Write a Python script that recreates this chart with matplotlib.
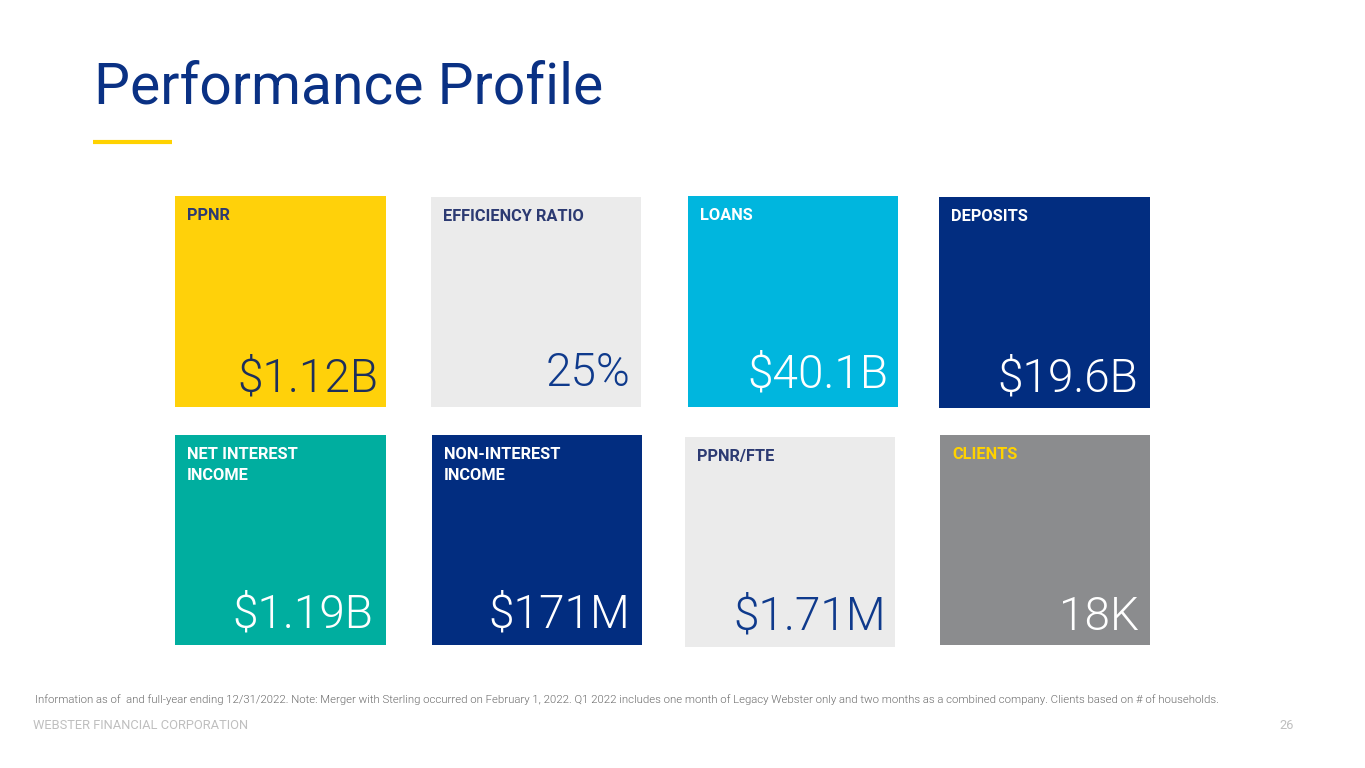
import matplotlib
matplotlib.use("Agg")
from matplotlib import pyplot as plt
from matplotlib.patches import Rectangle

plt.rcParams['font.family'] = ['Roboto', 'DejaVu Sans']

# tile data
labels = ["PPNR", "EFFICIENCY RATIO", "LOANS", "DEPOSITS",
          "NET INTEREST\nINCOME", "NON-INTEREST\nINCOME", "PPNR/FTE", "CLIENTS"]
values = ["$1.12B", "25%", "$40.1B", "$19.6B",
          "$1.19B", "$171M", "$1.71M", "18K"]

# layout: left, top, right, bottom in pixels
boxes = [(175, 196, 386, 407), (431, 197, 641, 407), (688, 196, 898, 407), (939, 197, 1150, 408),
         (175, 435, 386, 645), (432, 435, 642, 645), (685, 437, 895, 647), (940, 435, 1150, 645)]
# value text inset from right / bottom edge of each tile
pad_r = [8, 11, 10, 12, 13, 12, 9, 11]
pad_b = [15, 21, 19, 16, 18, 18, 17, 15]
fills = ["#FFD10A", "#EBEBEB", "#00B6DE", "#022D80",
         "#00AE9F", "#022D80", "#EBEBEB", "#8B8C8E"]
label_colors = ["#2C3A72", "#2C3A72", "white", "white",
                "white", "white", "#2C3A72", "#FFD200"]
value_colors = ["#1D2F5C", "#0F3A8C", "white", "white",
                "white", "white", "#0F3A8C", "white"]

footnote = ("Information as of  and full-year ending 12/31/2022. Note: Merger with Sterling occurred on "
            "February 1, 2022. Q1 2022 includes one month of Legacy Webster only and two months as a "
            "combined company. Clients based on # of households.")

W, H = 1365, 768
fig = plt.figure(figsize=(W / 100, H / 100), dpi=100)
ax = fig.add_axes([0, 0, 1, 1])
ax.set_xlim(0, W)
ax.set_ylim(H, 0)
ax.axis("off")

ax.text(94, 103, "Performance Profile", fontsize=41, color="#0A3184", va="baseline", ha="left")
ax.plot([93, 172], [142, 142], color="#FFD200", lw=3, solid_capstyle="butt")

for i in range(len(labels)):
    l, t, r, b = boxes[i]
    ax.add_patch(Rectangle((l, t), r - l, b - t, facecolor=fills[i], edgecolor="none"))
    for k, line in enumerate(labels[i].split("\n")):
        ax.text(l + 12, t + 24 + 21 * k, line, fontsize=11.8, fontweight="bold",
                color=label_colors[i], va="baseline", ha="left")
    ax.text(r - pad_r[i], b - pad_b[i], values[i], fontsize=33, fontweight=300,
            color=value_colors[i], va="baseline", ha="right")

ax.text(35, 703, footnote, fontsize=8.18, fontweight=300, color="#6A6A6A", va="baseline", ha="left")
ax.text(33, 729, "WEBSTER FINANCIAL CORPORATION", fontsize=9.3, color="#BFBFBF", va="baseline", ha="left")
ax.text(1294, 729, "26", fontsize=9.3, color="#BFBFBF", va="baseline", ha="right")

fig.savefig("out.png", dpi=100)
